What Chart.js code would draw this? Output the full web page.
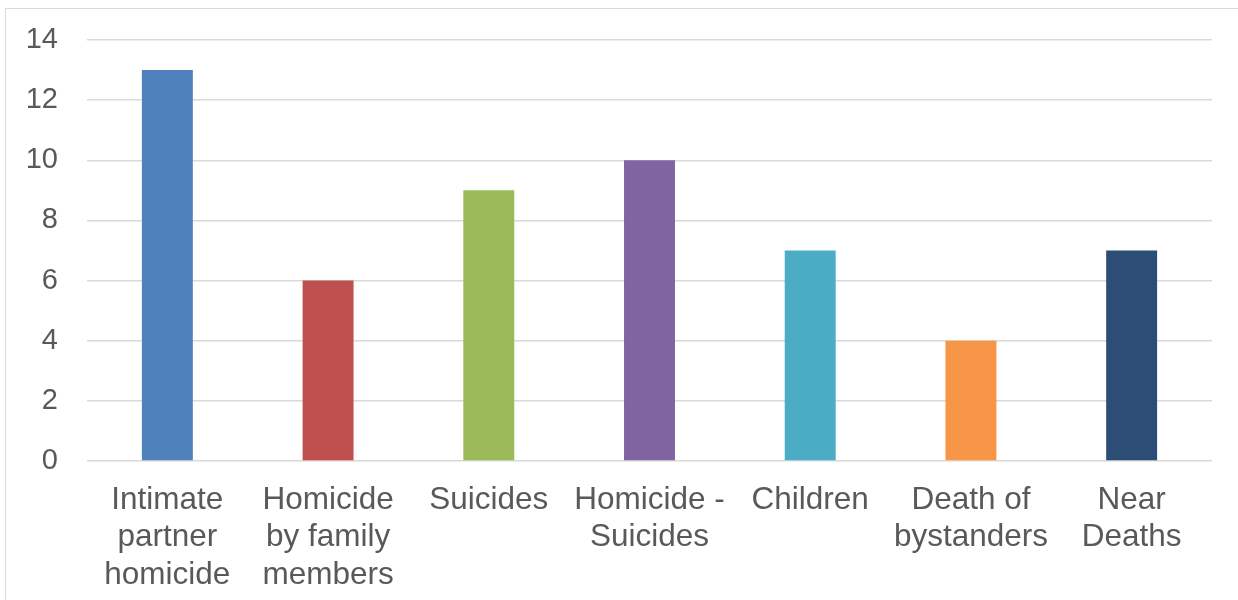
<!DOCTYPE html>
<html>
<head>
<meta charset="utf-8">
<script src="https://cdn.jsdelivr.net/npm/chart.js@4/dist/chart.umd.min.js"></script>
<style>
  html, body { margin: 0; padding: 0; background: #fff; overflow: hidden; }
  #wrap { position: relative; width: 1238px; height: 600px; }
  #frame { position: absolute; left: 5px; top: 8px; width: 1300px; height: 700px;
           border: 1.5px solid #d9d9d9; pointer-events: none; }
</style>
</head>
<body>
<div id="wrap">
  <canvas id="chart" width="1238" height="600"></canvas>
  <div id="frame"></div>
</div>
<script>
const categories = [
  ['Intimate', 'partner', 'homicide'],
  ['Homicide', 'by family', 'members'],
  'Suicides',
  ['Homicide -', 'Suicides'],
  'Children',
  ['Death of', 'bystanders'],
  ['Near', 'Deaths']
];
const counts = [13, 6, 9, 10, 7, 4, 7];
const barColors = ['#4f81bd', '#c0504d', '#9bbb59', '#8064a2', '#4bacc6', '#f79646', '#2c4d75'];
const yTicks = { min: 0, max: 14, step: 2 };

const textColor = '#595959';
const fontFamily = 'Liberation Sans, Arial, sans-serif';

const ctx = document.getElementById('chart').getContext('2d');
new Chart(ctx, {
  type: 'bar',
  data: {
    labels: categories,
    datasets: [{
      data: counts,
      backgroundColor: barColors,
      borderWidth: 0,
      barPercentage: 0.317,
      categoryPercentage: 1
    }]
  },
  options: {
    responsive: false,
    animation: false,
    layout: { padding: { top: 40, right: 26, bottom: 0, left: 0 } },
    plugins: { legend: { display: false }, tooltip: { enabled: false } },
    scales: {
      x: {
        grid: { display: false },
        border: { display: false },
        ticks: {
          color: textColor,
          font: { family: fontFamily, size: 31.5, lineHeight: 1.2 },
          padding: 12, maxRotation: 0, autoSkip: false
        },
        afterFit: (scale) => { scale.height = 139; }
      },
      y: {
        min: yTicks.min,
        max: yTicks.max,
        grid: { color: '#d9d9d9', lineWidth: 1.5, drawTicks: false },
        border: { display: false },
        ticks: { stepSize: yTicks.step, color: textColor, font: { family: fontFamily, size: 29 }, padding: 29 },
        afterFit: (scale) => {
          // fixed axis width; tick padding should not push the plot down
          scale.width = 87;
          scale.paddingTop = 0;
          scale.paddingBottom = 0;
        }
      }
    }
  }
});
</script>
</body>
</html>
